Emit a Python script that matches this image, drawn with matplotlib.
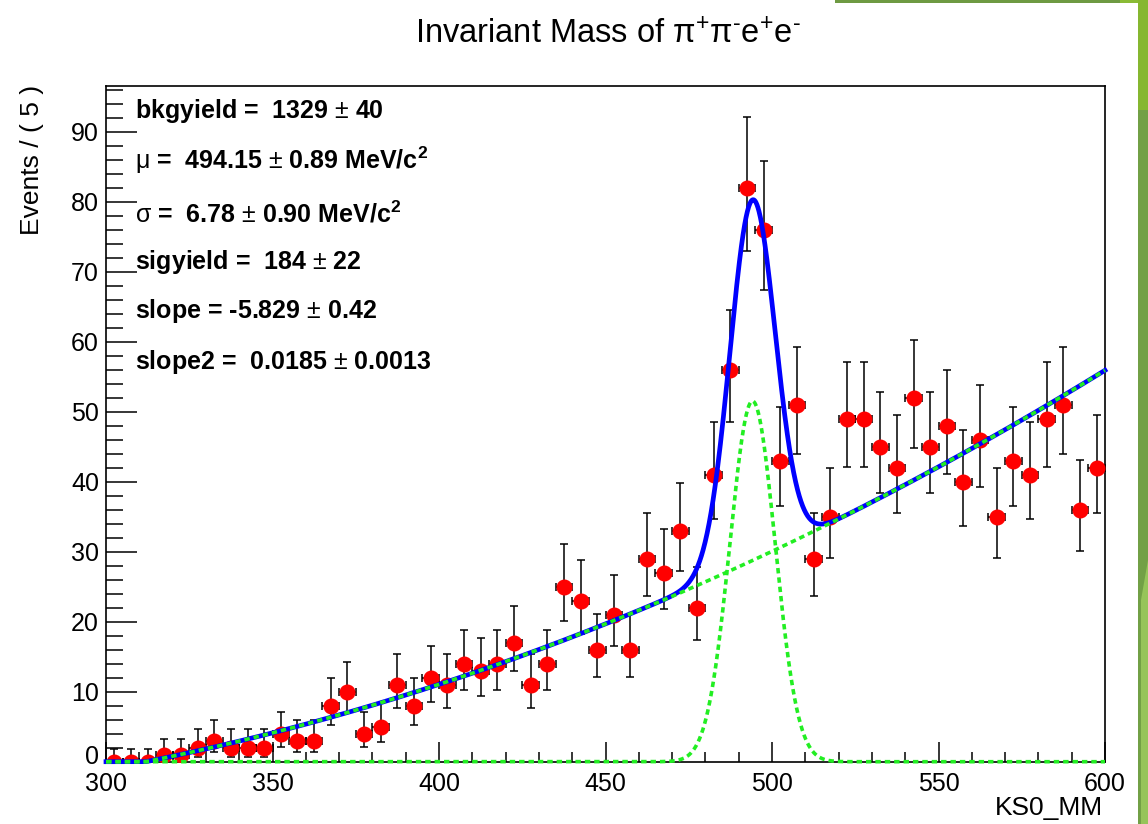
import math
import numpy as np
import matplotlib
matplotlib.use('Agg')
import matplotlib.pyplot as plt
from matplotlib.ticker import MultipleLocator, FuncFormatter
from matplotlib.patches import Rectangle, Polygon

plt.rcParams['font.family'] = ['Liberation Sans', 'DejaVu Sans']
plt.rcParams['mathtext.fontset'] = 'custom'
plt.rcParams['mathtext.rm'] = 'Liberation Sans'
plt.rcParams['mathtext.it'] = 'Liberation Sans:italic'
plt.rcParams['mathtext.bf'] = 'Liberation Sans:bold'

# ---------------- data ----------------
bin_lo, bin_hi, bin_width = 300.0, 600.0, 5.0
counts = [0, 0, 0, 1, 1, 2, 3, 2, 2, 2, 4, 3, 3, 8, 10, 4, 5, 11, 8, 12,
          11, 14, 13, 14, 17, 11, 14, 25, 23, 16, 21, 16, 29, 27, 33, 22, 41, 56, 82, 76,
          43, 51, 29, 35, 49, 49, 45, 42, 52, 45, 48, 40, 46, 35, 43, 41, 49, 51, 36, 42]

# fit results
mu, sigma, sig_peak = 494.15, 6.78, 51.5
bkg_x0, bkg_a, bkg_c = 312.0, 0.0953, 0.000343

param_lines = [
    r'bkgyield =  1329 $\pm$ 40',
    r'$\mathrm{\mu}$ =  494.15 $\pm$ 0.89 MeV/c$^{\mathbf{2}}$',
    r'$\mathrm{\sigma}$ =  6.78 $\pm$ 0.90 MeV/c$^{\mathbf{2}}$',
    r'sigyield =  184 $\pm$ 22',
    r'slope = -5.829 $\pm$ 0.42',
    r'slope2 =  0.0185 $\pm$ 0.0013',
]
title = r'Invariant Mass of $\mathrm{\pi}^{+}\mathrm{\pi}^{\text{-}}\mathrm{e}^{+}\mathrm{e}^{\text{-}}$'
ylabel = 'Events / ( 5 )'
xlabel = 'KS0_MM'

# ---------------- helpers ----------------
def pois_cdf(n, lam):
    if lam <= 0:
        return 1.0
    s = 0.0
    for k in range(n + 1):
        s += math.exp(-lam + k * math.log(lam) - math.lgamma(k + 1))
    return s

def bisect(f, lo, hi):
    for _ in range(80):
        mid = 0.5 * (lo + hi)
        if f(mid) > 0:
            lo = mid
        else:
            hi = mid
    return 0.5 * (lo + hi)

alpha = (1 - 0.682689) / 2
def pois_interval(n):
    up = bisect(lambda l: pois_cdf(n, l) - alpha, 0.0, n + 20 + 5 * math.sqrt(n + 1))
    if n == 0:
        lo = 0.0
    else:
        lo = bisect(lambda l: pois_cdf(n - 1, l) - (1 - alpha), 0.0, float(n))
    return lo, up

counts = np.array(counts, dtype=float)
centers = np.arange(bin_lo + bin_width / 2, bin_hi, bin_width)
err_lo, err_hi = [], []
for n in counts.astype(int):
    lo, up = pois_interval(n)
    err_lo.append(n - lo)
    err_hi.append(up - n)

x = np.linspace(bin_lo, bin_hi, 3001)
d = x - bkg_x0
bkg = np.clip(bkg_a * d + bkg_c * d ** 2, 0, None)
sig = sig_peak * np.exp(-0.5 * ((x - mu) / sigma) ** 2)
tot = bkg + sig

# ---------------- figure ----------------
W, H = 1148, 824
fig = plt.figure(figsize=(W / 100, H / 100), dpi=100)
fig.patch.set_facecolor('white')

def prect(x0, y0, x1, y1, color):
    fig.patches.append(Rectangle((x0 / W, 1 - y1 / H), (x1 - x0) / W, (y1 - y0) / H,
                                 transform=fig.transFigure, color=color, lw=0, zorder=0))

# slide decoration
prect(835, 0, 1120, 3, '#6e9a42')
prect(1120, 0, 1138, 3, '#8abb35')
prect(1138, 0, 1148, 824, '#72a046')
prect(1138, 0, 1148, 110, '#86b730')
fig.patches.append(Polygon([(1141 / W, 1 - 600 / H), (1148 / W, 1 - 560 / H),
                            (1148 / W, 0), (1141 / W, 0)], closed=True,
                           transform=fig.transFigure, color='#96c45a', lw=0, zorder=0))

ax = fig.add_axes([106 / W, 1 - 761.7 / H, (1105 - 106) / W, (761.7 - 86) / H])
ax.set_xlim(bin_lo, bin_hi)
ax.set_ylim(0, 96.5)

ax.errorbar(centers, counts, xerr=bin_width / 2, yerr=[err_lo, err_hi], fmt='o',
            color='red', ms=10.5, mec='red', ecolor='black', elinewidth=1.1,
            capsize=3, capthick=1.1, zorder=3)
ax.plot(x, tot, color='#0000ff', lw=3.4, zorder=4, clip_on=False)
ax.plot(x, bkg, color='#22ee22', lw=2.6, ls=(0, (1.5, 1.1)), zorder=5, clip_on=False)
ax.plot(x, sig, color='#22ee22', lw=2.6, ls=(0, (1.5, 1.1)), zorder=5, clip_on=False)

for s in ax.spines.values():
    s.set_linewidth(1.2)
ax.xaxis.set_major_locator(MultipleLocator(50))
ax.xaxis.set_minor_locator(MultipleLocator(10))
ax.yaxis.set_major_locator(MultipleLocator(10))
ax.yaxis.set_minor_locator(MultipleLocator(2))
# the "0" y label is drawn separately, slightly raised, so it clears the "300" label
ax.yaxis.set_major_formatter(FuncFormatter(lambda v, p: '' if abs(v) < 1e-9 else f'{v:g}'))
ax.tick_params(which='both', direction='in', top=False, right=False, width=1.1, labelsize=18)
ax.tick_params(axis='x', which='major', length=14.5, pad=7.5)
ax.tick_params(axis='x', which='minor', length=7.2)
ax.tick_params(axis='y', which='major', length=22, pad=5)
ax.tick_params(axis='y', which='minor', length=12)
ax.annotate('0', xy=(0, 0), xycoords=('axes fraction', 'data'), xytext=(-5, 3.6),
            textcoords='offset points', ha='right', va='center', fontsize=18,
            annotation_clip=False)

# parameter box text
baselines = [118.3, 169.3, 222.5, 269.3, 318.3, 369.0]
for txt, yb in zip(param_lines, baselines):
    fig.text(135 / W, 1 - yb / H, txt, fontsize=18, fontweight='bold',
             ha='left', va='baseline')

# titles
fig.text(608 / W, 1 - 43.3 / H, title, fontsize=23.5, ha='center', va='baseline')
fig.text(31.7 / W, 1 - 85 / H, ylabel, rotation=90, fontsize=19, ha='center', va='top')
fig.text(1103 / W, 1 - 815 / H, xlabel, fontsize=19, ha='right', va='baseline')

fig.savefig('out.png', dpi=100, facecolor='white')
